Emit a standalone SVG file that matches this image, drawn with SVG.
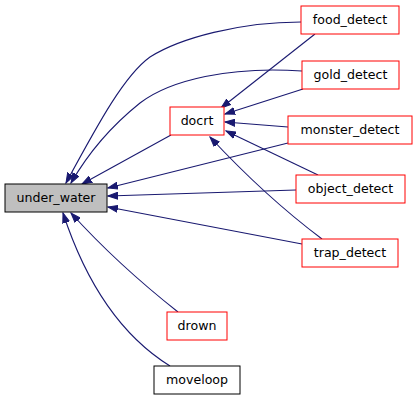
<svg xmlns="http://www.w3.org/2000/svg" width="419" height="400" viewBox="0 0 419 400">
<style>
.n rect{fill:#fff;stroke:#ff0000;stroke-width:1}
.n text{font-family:"DejaVu Sans",sans-serif;font-size:12.6px;fill:#000;text-anchor:middle}
#under_water rect{fill:#bfbfbf;stroke:#000}
#moveloop rect{stroke:#000}
#edges path{fill:none;stroke:#191970;stroke-width:1.1;marker-end:url(#ah)}
</style>
<defs>
<marker id="ah" markerUnits="userSpaceOnUse" markerWidth="11" markerHeight="8" refX="10" refY="4" orient="auto">
<path d="M0,0.5 L10,4 L0,7.5 z" fill="#191970" stroke="#191970" stroke-width="1"/>
</marker>
</defs>
<rect width="419" height="400" fill="#fff"/>
<g id="edges">
<path d="M171,135 L82,184"/>
<path d="M301,22 C240,22 180,38 150,57 C125,75 100,120 66,183"/>
<path d="M302,71 C230,66 170,80 140,103 C115,123 90,150 71,183"/>
<path d="M288,143 L108,188"/>
<path d="M296,190 L108,196"/>
<path d="M302,244 L108,207"/>
<path d="M178,312 C140,282 100,245 71,213"/>
<path d="M170,366 C120,335 85,280 63,213"/>
<path d="M315,34 L221,108"/>
<path d="M303,89 L225,114"/>
<path d="M288,127 L225,122"/>
<path d="M318,175 L226,131"/>
<path d="M322,239 C290,215 250,180 210,137"/>
</g>
<g id="under_water" class="n"><rect x="5" y="184" width="102" height="28"/><text x="56" y="202">under_water</text></g>
<g id="docrt" class="n"><rect x="170" y="107" width="54" height="28"/><text x="197" y="125">docrt</text></g>
<g id="food_detect" class="n"><rect x="301" y="6" width="98" height="28"/><text x="350" y="24">food_detect</text></g>
<g id="gold_detect" class="n"><rect x="302" y="61" width="97" height="28"/><text x="350.5" y="79">gold_detect</text></g>
<g id="monster_detect" class="n"><rect x="288" y="116" width="124" height="28"/><text x="350" y="134">monster_detect</text></g>
<g id="object_detect" class="n"><rect x="296" y="175" width="109" height="28"/><text x="350.5" y="193">object_detect</text></g>
<g id="trap_detect" class="n"><rect x="302" y="239" width="96" height="28"/><text x="350" y="257">trap_detect</text></g>
<g id="drown" class="n"><rect x="167" y="312" width="60" height="28"/><text x="197" y="330">drown</text></g>
<g id="moveloop" class="n"><rect x="154" y="366" width="86" height="28"/><text x="197" y="384">moveloop</text></g>
</svg>
